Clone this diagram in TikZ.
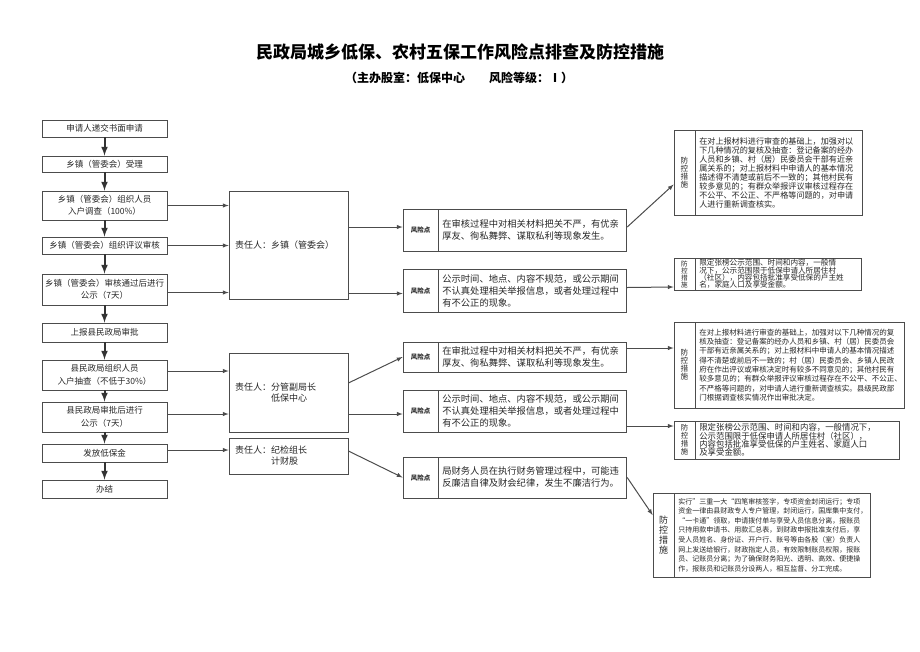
\documentclass[tikz,border=0pt]{standalone}
\usepackage{fontspec}
\setmainfont{Noto Sans CJK SC}
\usetikzlibrary{positioning}
\begin{document}
\begin{tikzpicture}[
    x=1pt, y=-1pt,
    box/.style={draw=black!70, line width=.8pt, inner sep=0pt, align=center, text=black!85},
    flowbox/.style={box, minimum width=125pt, font=\fontsize{8.5}{12.5}\selectfont},
    dutybox/.style={box, text width=107pt, inner xsep=6pt, align=left, font=\fontsize{9}{11}\selectfont},
    risklab/.style={box, minimum width=35pt, font=\fontsize{6.5}{8}\selectfont\bfseries},
    risktext/.style={box, text width=181pt, inner xsep=3.5pt, align=left, font=\fontsize{9.3}{12}\selectfont},
    measlab/.style={box, minimum width=21pt, font=\fontsize{7.6}{8}\selectfont},
    meastext/.style={box, inner xsep=3.5pt, align=left},
    flow/.style={-latex, line width=2pt, black!80},
    link/.style={-latex, line width=1pt, black!70}]
    \useasboundingbox (0,0) rectangle (920,651);
    \lineskiplimit=-20pt

    % 标题
    \node[font=\fontsize{17}{20}\selectfont\bfseries] (title) at (460,52)
        {民政局城乡低保、农村五保工作风险点排查及防控措施};
    \node[font=\fontsize{12}{14}\selectfont\bfseries] (subtitle) at (459,78)
        {（主办股室：低保中心　　风险等级：Ⅰ）};

    % 左列流程
    \node[flowbox, minimum height=17] (n1) at (104.5,128.5) {申请人递交书面申请};
    \node[flowbox, minimum height=16] (n2) at (104.5,164) {乡镇（管委会）受理};
    \node[flowbox, minimum height=29] (n3) at (104.5,205.5) {乡镇（管委会）组织人员\\入户调查（100\%）};
    \node[flowbox, minimum height=17] (n4) at (104.5,245.5) {乡镇（管委会）组织评议审核};
    \node[flowbox, minimum height=31] (n5) at (104.5,289.5) {乡镇（管委会）审核通过后进行\\公示（7天）};
    \node[flowbox, minimum height=19] (n6) at (104.5,332.5) {上报县民政局审批};
    \node[flowbox, minimum height=30] (n7) at (104.5,375) {县民政局组织人员\\入户抽查（不低于30\%）};
    \node[flowbox, minimum height=30] (n8) at (104.5,417) {县民政局审批后进行\\公示（7天）};
    \node[flowbox, minimum height=18] (n9) at (104.5,453) {发放低保金};
    \node[flowbox, minimum height=18] (n10) at (104.5,489) {办结};

    \draw[flow] (n1) -- (n2);
    \draw[flow] (n2) -- (n3);
    \draw[flow] (n3) -- (n4);
    \draw[flow] (n4) -- (n5);
    \draw[flow] (n5) -- (n6);
    \draw[flow] (n6) -- (n7);
    \draw[flow] (n7) -- (n8);
    \draw[flow] (n8) -- (n9);
    \draw[flow] (n9) -- (n10);

    % 责任人
    \node[dutybox, minimum height=108] (dutyA) at (288.5,245) {责任人：乡镇（管委会）};
    \node[dutybox, minimum height=79] (dutyB) at (288.5,392.5)
        {责任人：分管副局长\\\hphantom{责任人：}低保中心};
    \node[dutybox, minimum height=36] (dutyC) at (288.5,456)
        {责任人：纪检组长\\\hphantom{责任人：}计财股};

    \draw[link] (n3.east) -- (dutyA.west |- n3.east);
    \draw[link] (n4.east) -- (dutyA.west |- n4.east);
    \draw[link] ([yshift=-3pt]n5.east) -- ([yshift=-3pt]dutyA.west |- n5.east);
    \draw[link] ([yshift=4pt]n7.east) -- ([yshift=4pt]dutyB.west |- n7.east);
    \draw[link] ([yshift=3pt]n8.east) -- ([yshift=3pt]dutyB.west |- n8.east);
    \draw[link] ([yshift=3pt]n9.east) -- ([yshift=3pt]dutyC.west |- n9.east);

    % 风险点
    \node[risklab, minimum height=42] (r1l) at (420.5,230) {风险点};
    \node[risktext, minimum height=42, right=0pt of r1l] (r1)
        {在审核过程中对相关材料把关不严，有优亲\\厚友、徇私舞弊、谋取私利等现象发生。};
    \node[risklab, minimum height=43] (r2l) at (420.5,290.5) {风险点};
    \node[risktext, minimum height=43, right=0pt of r2l] (r2)
        {公示时间、地点、内容不规范，或公示期间\\不认真处理相关举报信息，或者处理过程中\\有不公正的现象。};
    \node[risklab, minimum height=30] (r3l) at (420.5,357) {风险点};
    \node[risktext, minimum height=30, right=0pt of r3l] (r3)
        {在审批过程中对相关材料把关不严，有优亲\\厚友、徇私舞弊、谋取私利等现象发生。};
    \node[risklab, minimum height=42] (r4l) at (420.5,411) {风险点};
    \node[risktext, minimum height=42, right=0pt of r4l] (r4)
        {公示时间、地点、内容不规范，或公示期间\\不认真处理相关举报信息，或者处理过程中\\有不公正的现象。};
    \node[risklab, minimum height=41] (r5l) at (420.5,477.5) {风险点};
    \node[risktext, minimum height=41, right=0pt of r5l] (r5)
        {局财务人员在执行财务管理过程中，可能违\\反廉洁自律及财会纪律，发生不廉洁行为。};

    \draw[link] ([yshift=3pt]dutyA.east |- r1l.west) -- ([yshift=3pt]r1l.west);
    \draw[link] ([yshift=-3pt]dutyA.east |- r2l.west) -- ([yshift=-3pt]r2l.west);
    \draw[link] ([yshift=9.5pt]dutyB.east) -- (r3l.west);
    \draw[link] ([yshift=-3pt]dutyB.east |- r4l.west) -- ([yshift=-3pt]r4l.west);
    \draw[link] ([yshift=5pt]dutyC.east) -- (r5l.west);

    % 防控措施
    \node[measlab, minimum height=85] (m1l) at (684.5,172.5) {防\\控\\措\\施};
    \node[meastext, minimum height=85, text width=160pt, right=0pt of m1l,
        font=\fontsize{8.1}{9}\selectfont] (m1)
        {在对上报材料进行审查的基础上，加强对以\\下几种情况的复核及抽查：登记备案的经办\\人员和乡镇、村（居）民委员会干部有近亲\\属关系的；对上报材料中申请人的基本情况\\描述得不清楚或前后不一致的；其他村民有\\较多意见的；有群众举报评议审核过程存在\\不公平、不公正、不严格等问题的，对申请\\人进行重新调查核实。};
    \node[measlab, minimum height=32, font=\fontsize{6.6}{7}\selectfont] (m2l) at (684.5,274) {防\\控\\措\\施};
    \node[meastext, minimum height=32, text width=159pt, right=0pt of m2l,
        font=\fontsize{7.6}{7.4}\selectfont] (m2)
        {限定张榜公示范围、时间和内容，一般情\\况下，公示范围限于低保申请人所居住村\\（社区），内容包括批准享受低保的户主姓\\名，家庭人口及享受金额。};
    \node[measlab, minimum height=86] (m3l) at (684.5,365) {防\\控\\措\\施};
    \node[meastext, minimum height=86, text width=202pt, right=0pt of m3l,
        font=\fontsize{7.5}{9.3}\selectfont] (m3)
        {在对上报材料进行审查的基础上，加强对以下几种情况的复\\核及抽查：登记备案的经办人员和乡镇、村（居）民委员会\\干部有近亲属关系的；对上报材料中申请人的基本情况描述\\得不清楚或前后不一致的；村（居）民委员会、乡镇人民政\\府在作出评议或审核决定时有较多不同意见的；其他村民有\\较多意见的；有群众举报评议审核过程存在不公平、不公正、\\不严格等问题的，对申请人进行重新调查核实。县级民政部\\门根据调查核实情况作出审批决定。};
    \node[measlab, minimum height=38, font=\fontsize{7.4}{8}\selectfont] (m4l) at (684.5,440) {防\\控\\措\\施};
    \node[meastext, minimum height=38, text width=197pt, right=0pt of m4l,
        font=\fontsize{8.4}{8.2}\selectfont] (m4)
        {限定张榜公示范围、时间和内容，一般情况下，\\公示范围限于低保申请人所居住村（社区），\\内容包括批准享受低保的户主姓名、家庭人口\\及享受金额。};
    \node[measlab, minimum height=84, font=\fontsize{9}{10}\selectfont] (m5l) at (663.5,535) {防\\控\\措\\施};
    \node[meastext, minimum height=84, text width=189pt, right=0pt of m5l,
        font=\fontsize{7}{9.6}\selectfont] (m5)
        {实行”三重一大“四笔审核签字，专项资金封闭运行；专项\\资金一律由县财政专人专户管理，封闭运行，国库集中支付，\\“一卡通”领取，申请拨付单与享受人员信息分离，报账员\\只持用款申请书、用款汇总表，到财政申报批准支付后，享\\受人员姓名、身份证、开户行、账号等由各股（室）负责人\\网上发送给银行，财政指定人员，有效限制账员权限，报账\\员、记账员分离；为了确保财务阳光、透明、高效、便捷操\\作，报账员和记账员分设两人，相互监督、分工完成。};

    \draw[link] ([yshift=3pt]r1.east) -- ([yshift=-12pt]m1l.west);
    \draw[link] ([yshift=3pt]r2.east) -- ([yshift=-13pt]m2l.west);
    \draw[link] ([yshift=9pt]r3.east) -- ([yshift=17pt]m3l.west);
    \draw[link] ([yshift=-15pt]r4.east) -- ([yshift=14pt]m4l.west);
    \draw[link] (r5.east) -- ([yshift=20pt]m5l.west);
\end{tikzpicture}
\end{document}
